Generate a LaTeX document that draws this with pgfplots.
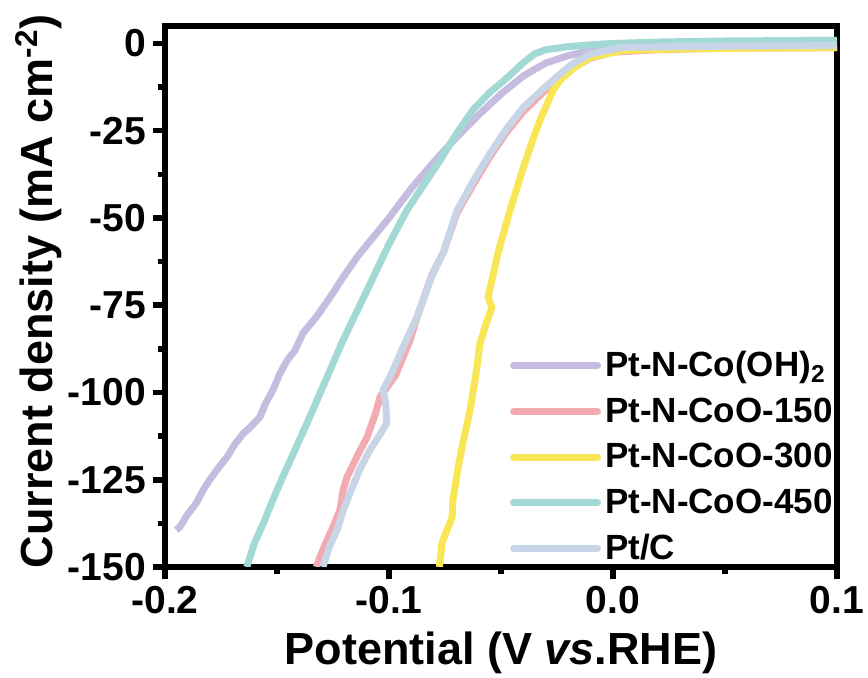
\documentclass[border=0pt]{standalone}
\usepackage{fontspec}
\setmainfont{Liberation Sans}
\usepackage{pgfplots}
\pgfplotsset{compat=1.18}
\definecolor{cpur}{HTML}{C5BCDF}
\definecolor{cpink}{HTML}{F2ABB0}
\definecolor{cyel}{HTML}{F8E655}
\definecolor{cteal}{HTML}{A2D9D5}
\definecolor{cblue}{HTML}{C8D5E6}
\begin{document}
\begin{tikzpicture}
\path[use as bounding box] (-82.5pt,-55.5pt) rectangle (351.5pt,283.5pt);
\begin{axis}[
  scale only axis,
  width=336pt, height=270.5pt,
  xmin=-0.2, xmax=0.1, ymin=-150, ymax=5,
  axis line style={line width=2.8pt},
  every tick/.style={black, line width=2.8pt},
  tick align=outside,
  major tick length=6pt, minor tick length=3.3pt,
  xtick={-0.2,-0.1,0,0.1},
  ytick={-150,-125,-100,-75,-50,-25,0},
  minor xtick={-0.15,-0.05,0.05},
  minor ytick={-137.5,-112.5,-87.5,-62.5,-37.5,-12.5},
  xtick pos=bottom, ytick pos=left,
  tick label style={font=\fontsize{19.5}{22}\selectfont\bfseries},
  /pgf/number format/assume math mode=true,
  xticklabel style={/pgf/number format/.cd, fixed, fixed zerofill, precision=1},
  yticklabel style={/pgf/number format/.cd, fixed, precision=0},
  scaled x ticks=false,
  xlabel={\bfseries Potential (V \textit{vs}.RHE)},
  ylabel={\bfseries Current density (mA cm\textsuperscript{-2})},
  label style={font=\fontsize{22.5}{26}\selectfont},
  xlabel style={at={(axis description cs:0.5,-0.1811)}, anchor=base},
  ylabel style={at={(axis description cs:-0.1667,0.51)}, anchor=base},
  legend style={draw=none, fill=none, at={(1,0)}, anchor=south east,
    font=\fontsize{17.5}{21}\selectfont\bfseries, row sep=5pt,
    inner sep=0pt},
  legend cell align=left,
  legend image code/.code={\draw[#1, line width=3.5pt, line cap=round] (0pt,0pt) -- (42pt,0pt);},
  every axis plot/.append style={line width=3.5pt, line join=round},
]
\addplot[cpur] coordinates {
(0.1,-0.2) (0.05,-0.3) (0.02,-0.5) (0.0,-1.1) (-0.01,-2.0) (-0.02,-3.5) (-0.03,-5.6)
(-0.04,-9.3) (-0.05,-14.5) (-0.06,-20.5) (-0.07,-27) (-0.08,-34) (-0.09,-41.5)
(-0.1,-50) (-0.107,-55.5) (-0.114,-61) (-0.12,-66.5) (-0.1263,-72.7) (-0.132,-78)
(-0.1384,-83) (-0.142,-88) (-0.1455,-90.8) (-0.149,-95) (-0.1518,-99.3) (-0.155,-103)
(-0.1576,-107) (-0.162,-110) (-0.165,-111.7) (-0.169,-115) (-0.1723,-118.5)
(-0.176,-121.5) (-0.18,-125) (-0.183,-128) (-0.186,-131.7) (-0.19,-135)
(-0.1933,-138.5) (-0.195,-139.4)
};
\addlegendentry{Pt-N-Co(OH)\textsubscript{2}\rule[-8pt]{0pt}{8pt}}
\addplot[cpink] coordinates {
(0.1,-1.2) (0.05,-1.4) (0.02,-1.8) (0.0,-2.5) (-0.01,-4.2) (-0.018,-7) (-0.025,-10.5)
(-0.032,-14.5) (-0.04,-19.5) (-0.047,-25) (-0.055,-32.5) (-0.062,-40) (-0.0696,-48.5)
(-0.0755,-59.5) (-0.081,-66.5) (-0.0875,-78.5) (-0.0906,-85) (-0.097,-95)
(-0.104,-101.3) (-0.106,-106) (-0.1098,-112.8) (-0.114,-118) (-0.1187,-124.2)
(-0.1205,-128) (-0.1219,-133.7) (-0.126,-140) (-0.1295,-145) (-0.1325,-150)
};
\addlegendentry{Pt-N-CoO-150}
\addplot[cyel] coordinates {
(0.1,-1.2) (0.05,-1.4) (0.02,-1.7) (0.0045,-2.0) (-0.0103,-4) (-0.0178,-7.2)
(-0.0237,-10.6) (-0.0268,-13.5) (-0.0326,-22) (-0.036,-28) (-0.040,-35.5)
(-0.046,-47.8) (-0.0513,-60) (-0.0558,-72.7) (-0.054,-75.6) (-0.0565,-80)
(-0.0594,-86) (-0.0607,-92.7) (-0.0623,-99) (-0.0638,-105) (-0.067,-114.5)
(-0.069,-121) (-0.0714,-130.5) (-0.0718,-135.7) (-0.0763,-143) (-0.0775,-150)
};
\addlegendentry{Pt-N-CoO-300}
\addplot[cteal] coordinates {
(0.1,0.9) (0.05,0.7) (0.02,0.4) (0.0,0.0) (-0.01,-0.4) (-0.02,-0.9) (-0.03,-1.8)
(-0.035,-3.0) (-0.04,-5.5) (-0.047,-9.7) (-0.055,-14) (-0.0625,-19) (-0.07,-26)
(-0.0772,-33.5) (-0.085,-41) (-0.092,-47.8) (-0.1,-57.5) (-0.11,-71) (-0.1205,-85)
(-0.1286,-97) (-0.1366,-108.8) (-0.142,-116.5) (-0.1473,-124) (-0.152,-131)
(-0.156,-137.4) (-0.16,-143) (-0.1635,-150)
};
\addlegendentry{Pt-N-CoO-450}
\addplot[cblue] coordinates {
(0.1,-0.6) (0.05,-0.8) (0.02,-1.0) (0.0045,-1.1) (-0.01,-3.0) (-0.0178,-5.7)
(-0.025,-9.5) (-0.032,-13.5) (-0.04,-18.3) (-0.047,-24) (-0.0549,-31.5) (-0.062,-39)
(-0.0696,-47.8) (-0.0755,-59.5) (-0.081,-67) (-0.0875,-78.4) (-0.093,-86)
(-0.0996,-95.6) (-0.1027,-99.3) (-0.1015,-103) (-0.101,-108.8) (-0.104,-112)
(-0.1085,-116.5) (-0.113,-122) (-0.1174,-128.8) (-0.1205,-134) (-0.1232,-139.4)
(-0.1265,-144) (-0.1295,-150)
};
\addlegendentry{Pt/C}
\end{axis}
\end{tikzpicture}
\end{document}
